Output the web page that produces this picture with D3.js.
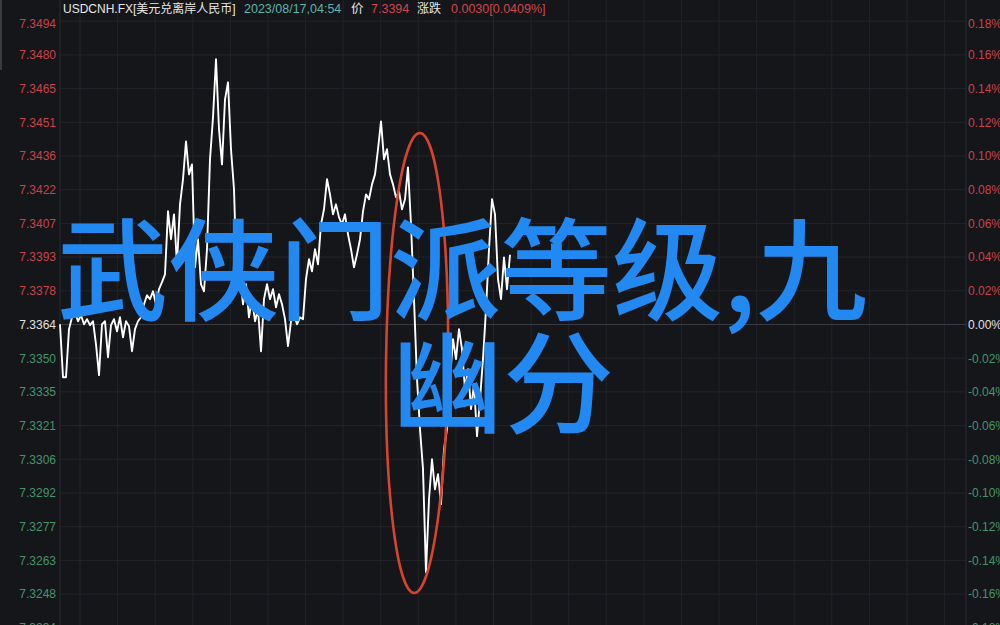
<!DOCTYPE html>
<html>
<head>
<meta charset="utf-8">
<script src="https://cdn.jsdelivr.net/npm/d3@7/dist/d3.min.js"></script>
<style>
  html, body { margin: 0; padding: 0; background: #15161a; }
  svg { display: block; }
</style>
</head>
<body>
<svg id="chart" width="1000" height="625"></svg>
<script>
// ---------------- data ----------------
const prevClose = 7.3364;
const lastPrice = 7.3394;
const leftTickLabels = ["7.3494","7.3480","7.3465","7.3451","7.3436","7.3422","7.3407","7.3393","7.3378",
  "7.3364","7.3350","7.3335","7.3321","7.3306","7.3292","7.3277","7.3263","7.3248","7.3234"];
const rightTickLabels = ["0.18%","0.16%","0.14%","0.12%","0.10%","0.08%","0.06%","0.04%","0.02%",
  "0.00%","-0.02%","-0.04%","-0.06%","-0.08%","-0.10%","-0.12%","-0.14%","-0.16%","-0.18%"];
const tickSteps = [9,8,7,6,5,4,3,2,1,0,-1,-2,-3,-4,-5,-6,-7,-8,-9];
const priceStep = 0.00145;
const totalSlots = 302;
const prices = [
  7.33641,7.33413,7.33413,7.33620,7.33671,7.33693,7.33654,7.33680,7.33641,7.33663,
  7.33637,7.33654,7.33555,7.33422,7.33641,7.33654,7.33499,7.33637,7.33663,7.33611,
  7.33671,7.33585,7.33654,7.33633,7.33525,7.33620,7.33654,7.33671,7.33727,7.33766,
  7.33749,7.33783,7.33727,7.33792,7.33822,7.33856,7.34127,7.34007,7.34114,7.33899,
  7.34157,7.34265,7.34428,7.34286,7.34329,7.33886,7.34007,7.33813,7.33783,7.33964,
  7.34351,7.34531,7.34781,7.34480,7.34329,7.34609,7.34682,7.34394,7.34222,7.33792,
  7.33856,7.33727,7.33813,7.33671,7.33749,7.33654,7.33706,7.33525,7.33749,7.33813,
  7.33749,7.33792,7.33714,7.33770,7.33727,7.33663,7.33547,7.33654,7.33684,7.33641,
  7.33671,7.33663,7.33835,7.33921,7.33869,7.33964,7.33899,7.34071,7.34136,7.34265,
  7.34200,7.34114,7.34157,7.34101,7.34071,7.34114,7.34028,7.33964,7.33886,7.33942,
  7.34007,7.34127,7.34200,7.34179,7.34243,7.34286,7.34394,7.34514,7.34351,7.34394,
  7.34286,7.34243,7.34187,7.34213,7.34136,7.34179,7.34316,7.34071,7.33749,7.33405,
  7.33190,7.33018,7.32574,7.32888,7.33060,7.32931,7.32996,7.32867,7.33103,7.33190,
  7.33405,7.33577,7.33491,7.33620,7.33534,7.33361,7.33448,7.33276,7.33383,7.33159,
  7.33319,7.33491,7.33706,7.33964,7.34179,7.34114,7.33835,7.33749,7.33929,7.33792,
  7.33940
];
const headerParts = [
  {text: "USDCNH.FX[美元兑离岸人民币]", color: "#e6e6e6", x: 63, size: 12},
  {text: "2023/08/17,04:54", color: "#5db3ab", x: 244, size: 12.5},
  {text: "价", color: "#e6e6e6", x: 351, size: 12.5},
  {text: "7.3394", color: "#d0454c", x: 371, size: 12.5},
  {text: "涨跌", color: "#e6e6e6", x: 417, size: 12},
  {text: "0.0030[0.0409%]", color: "#d0454c", x: 451, size: 12.5}
];
const titleLines = ["武侠门派等级,九", "幽分"];

// ---------------- layout ----------------
const svg = d3.select("#chart");
const W = 1000, H = 625;
const plotL = 60, plotR = 966;
const baseY = 324.5, stepPx = 33.7;

svg.append("rect").attr("width", W).attr("height", H).attr("fill", "#15161a");

const x = d3.scaleLinear().domain([0, totalSlots]).range([plotL, plotR]);
const y = d3.scaleLinear()
  .domain([prevClose - 9 * priceStep, prevClose + 9 * priceStep])
  .range([baseY + 9 * stepPx, baseY - 9 * stepPx]);

// vertical grid (hourly)
const gridSlots = d3.range(6.67, totalSlots, 12.53);
svg.append("g").selectAll("line").data(gridSlots).join("line")
  .attr("x1", d => x(d)).attr("x2", d => x(d))
  .attr("y1", 0).attr("y2", H)
  .attr("stroke", "#222328").attr("stroke-width", 1);

// horizontal grid
svg.append("g").selectAll("line").data(tickSteps).join("line")
  .attr("x1", plotL).attr("x2", plotR)
  .attr("y1", d => y(prevClose + d * priceStep)).attr("y2", d => y(prevClose + d * priceStep))
  .attr("stroke", d => d === 0 ? "#3a3b41" : "#232429").attr("stroke-width", 1);

// axis borders
svg.append("line").attr("x1", plotL).attr("x2", plotL).attr("y1", 0).attr("y2", H)
  .attr("stroke", "#2a2b30");
svg.append("line").attr("x1", plotR).attr("x2", plotR).attr("y1", 0).attr("y2", H)
  .attr("stroke", "#2a2b30");
svg.append("line").attr("x1", 1).attr("x2", 1).attr("y1", 0).attr("y2", 70)
  .attr("stroke", "#3a3b40").attr("stroke-width", 2);

// price line
const line = d3.line().x((d, i) => x(i)).y(d => y(d));
svg.append("path").datum(prices)
  .attr("d", line)
  .attr("fill", "none")
  .attr("stroke", "#ffffff")
  .attr("stroke-width", 1.9)
  .attr("stroke-linejoin", "round");

// red ellipse highlight
svg.append("ellipse")
  .attr("cx", 417).attr("cy", 363).attr("rx", 31).attr("ry", 230)
  .attr("transform", "rotate(0.7 417 363)")
  .attr("fill", "none").attr("stroke", "#d8432e").attr("stroke-width", 2.6);

// tick labels
const labelColor = d => d > 0 ? "#c9424a" : (d < 0 ? "#43956c" : "#e0e0e0");
const labelFont = "'Liberation Sans', Arial, sans-serif";
svg.append("g").selectAll("text").data(tickSteps).join("text")
  .attr("x", 56)
  .attr("y", d => Math.max(24, y(prevClose + d * priceStep)))
  .attr("dy", "0.36em")
  .attr("text-anchor", "end")
  .attr("font-family", labelFont).attr("font-size", 12)
  .attr("fill", labelColor)
  .text((d, i) => leftTickLabels[i]);
svg.append("g").selectAll("text").data(tickSteps).join("text")
  .attr("x", 968)
  .attr("y", d => Math.max(24, y(prevClose + d * priceStep)))
  .attr("dy", "0.36em")
  .attr("text-anchor", "start")
  .attr("font-family", labelFont).attr("font-size", 12)
  .attr("fill", labelColor)
  .text((d, i) => rightTickLabels[i]);

// header
svg.append("g").selectAll("text").data(headerParts).join("text")
  .attr("x", d => d.x).attr("y", 13)
  .attr("font-family", "'Liberation Sans', 'Noto Sans CJK SC', sans-serif")
  .attr("font-size", d => d.size)
  .attr("fill", d => d.color)
  .text(d => d.text);

// overlay title
svg.append("g").selectAll("text").data(titleLines).join("text")
  .attr("x", (d, i) => i === 0 ? 57 : 392)
  .attr("y", (d, i) => i === 0 ? 312 : 425)
  .attr("font-family", "'Noto Sans CJK SC', sans-serif")
  .attr("font-size", 111)
  .attr("font-weight", 500)
  .attr("fill", "#2389f2")
  .text(d => d);
</script>
</body>
</html>
